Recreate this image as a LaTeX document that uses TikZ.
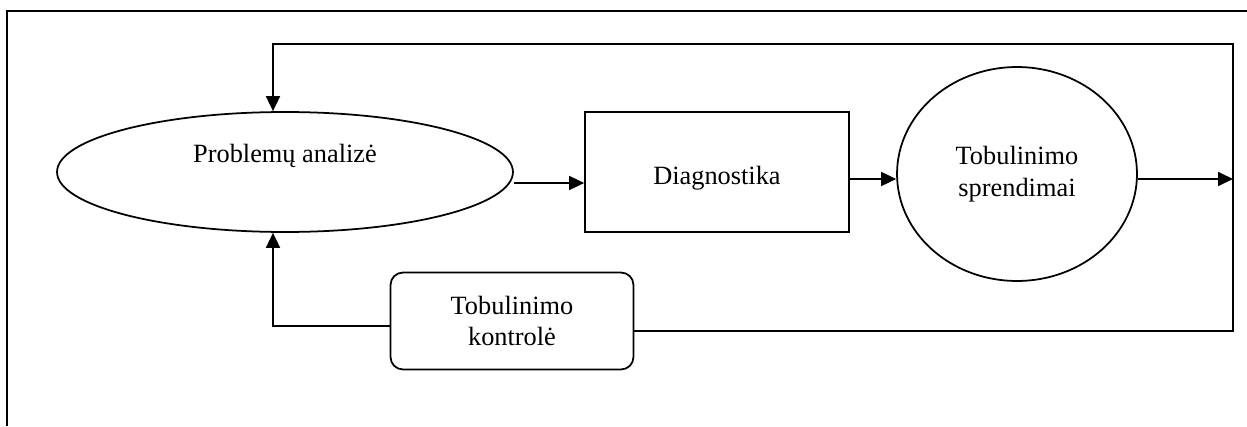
\documentclass[tikz,border=0pt]{standalone}
\usepackage{fontspec}
\setmainfont{Liberation Serif}
\usetikzlibrary{shapes.geometric,arrows.meta}
\tikzset{
  arr/.style={line width=1pt,-{Triangle[length=0.3cm,width=0.28cm]}},
  ovalbox/.style={draw,line width=1pt,ellipse,inner sep=0pt},
  sqbox/.style={draw,line width=1pt,rectangle,inner sep=0pt},
  rndbox/.style={draw,line width=1pt,rectangle,rounded corners=0.25cm,inner sep=0pt,align=center}
}
\begin{document}
\begin{tikzpicture}[x=0.02cm,y=-0.02cm,font=\fontsize{15}{18}\selectfont]
\useasboundingbox (0,0) rectangle (1247,426);
% frame
\coordinate (fbl) at (7,426);
\coordinate (ftl) at (7,11);
\coordinate (ftr) at (1247,11);
\draw[line width=1.1pt] (fbl) -- (ftl) -- (ftr);
%
\node[ovalbox,minimum width=9.12cm,minimum height=2.4cm] (prob) at (285,172) {};
\node (probtxt) at (285,156) {Problemų analizė};
%
\node[sqbox,minimum width=5.28cm,minimum height=2.4cm,text height=0.62cm,text depth=0.1cm] (diag) at (717,172) {Diagnostika};
%
\node[ovalbox,minimum width=4.8cm,minimum height=4.28cm,align=center] (spr) at (1017,174) {Tobulinimo\\sprendimai};
%
\node[rndbox,minimum width=4.86cm,minimum height=1.94cm] (kont) at (512,321) {Tobulinimo\\kontrolė};
%
\coordinate (tr) at (1233,44);
\coordinate (tl) at (273,44);
\coordinate (rgt) at (1233,179);
%
\draw[arr] ([yshift=-0.22cm]prob.east) -- ([yshift=-0.22cm]diag.west);
\draw[arr] ([yshift=-0.14cm]diag.east) -- ([yshift=-0.1cm]spr.west);
\draw[arr] ([yshift=-0.1cm]spr.east) -- (rgt);
%
\draw[arr] ([yshift=-0.2cm]kont.east) -| (tr) -- (tl) -- (tl |- prob.north);
\draw[arr] ([yshift=-0.1cm]kont.west) -| (tl |- prob.south);
\end{tikzpicture}
\end{document}
